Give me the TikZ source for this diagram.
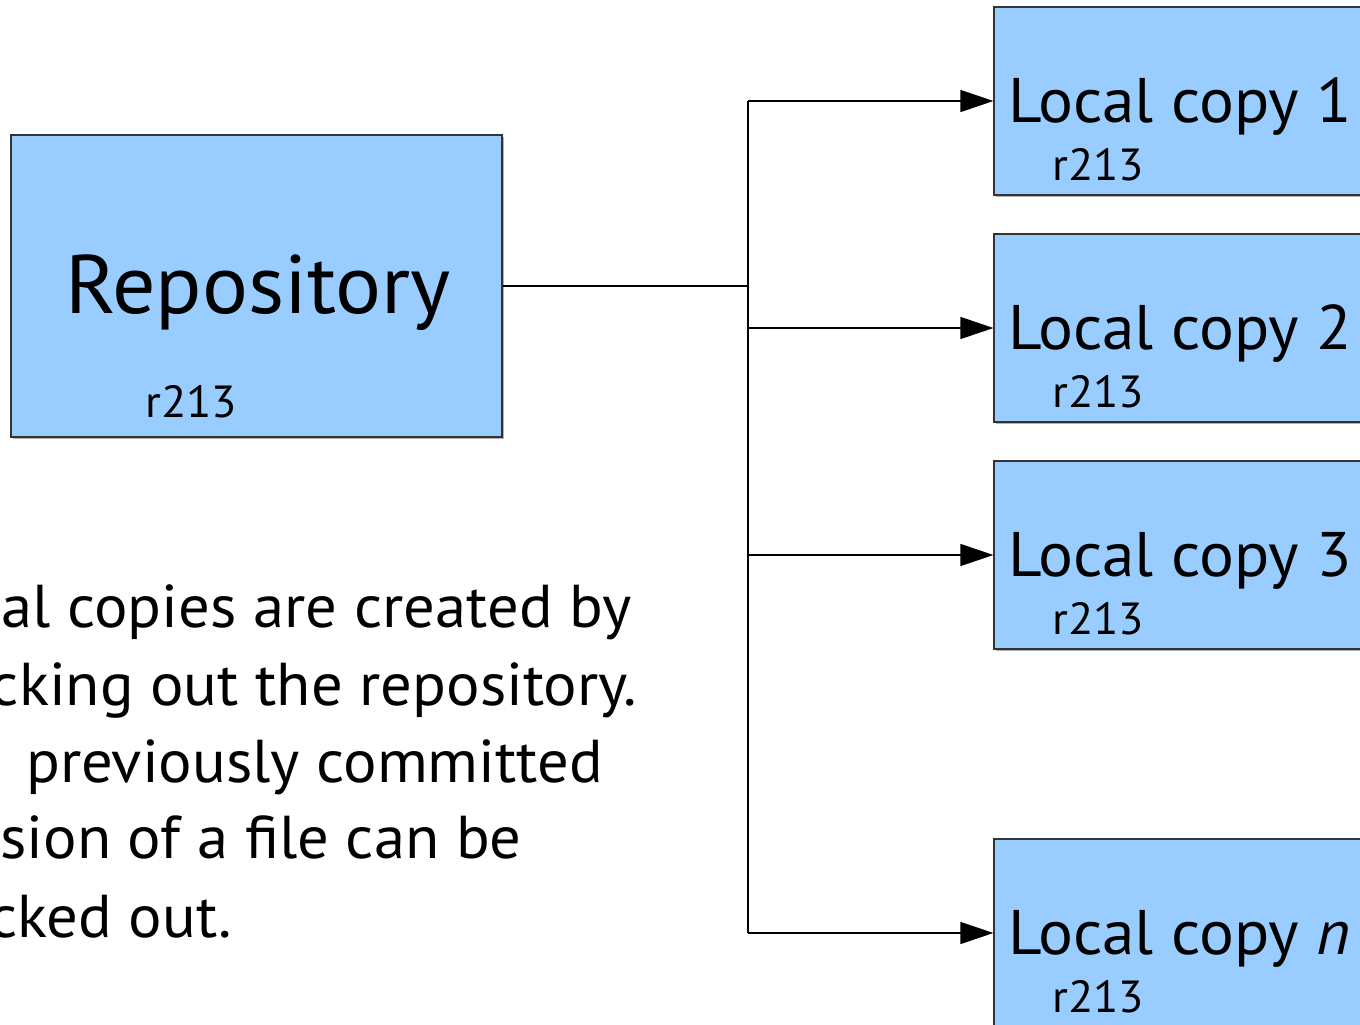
\documentclass[tikz,border=0pt]{standalone}
\usepackage{fontspec}
\setmainfont[FakeStretch=1.035]{PT Sans}
\usetikzlibrary{arrows.meta,shadows}
\definecolor{boxblue}{HTML}{99CCFF}
\definecolor{boxline}{HTML}{333333}
\begin{document}
\begin{tikzpicture}[x=1pt,y=-1pt,
  box/.style={draw=boxline, line width=1.2pt, fill=boxblue, rectangle, inner sep=0pt,
    drop shadow={shadow xshift=1.6pt, shadow yshift=-1.6pt, fill=black!30, opacity=1}},
  title/.style={inner sep=0pt, anchor=base west, font=\fontsize{83}{90}\selectfont},
  lbl/.style={inner sep=0pt, anchor=base west, font=\fontsize{63}{70}\selectfont},
  rev/.style={inner sep=0pt, anchor=base west, font=\fontsize{45}{50}\selectfont},
  note/.style={inner sep=0pt, anchor=base east, font=\fontsize{60.5}{70}\selectfont},
  link/.style={line width=1.3pt, draw=black},
  arr/.style={link, -{Triangle[length=33pt,width=22pt]}}]
\useasboundingbox (0,0) rectangle (1360,1025);
\clip (0,0) rectangle (1360,1025);

% repository
\node[box, minimum width=491pt, minimum height=302pt] (repo) at (256.5,286) {};
\node[title] (repoT) at (65,313) {Repository};
\node[rev] (repoR) at (145,417) {r213};

% working copies
\node[box, minimum width=420pt, minimum height=188pt] (c1) at (1204,101) {};
\node[box, minimum width=420pt, minimum height=188pt] (c2) at (1204,328) {};
\node[box, minimum width=420pt, minimum height=188pt] (c3) at (1204,555) {};
\node[box, minimum width=420pt, minimum height=188pt] (cn) at (1204,933) {};

\node[lbl] (c1T) at (1008,122) {Local copy 1};
\node[rev] (c1R) at (1052,180) {r213};
\node[lbl] (c2T) at (1008,349) {Local copy 2};
\node[rev] (c2R) at (1052,407) {r213};
\node[lbl] (c3T) at (1008,576) {Local copy 3};
\node[rev] (c3R) at (1052,634) {r213};
\node[lbl] (cnT) at (1008,954) {Local copy \textit{n}};
\node[rev] (cnR) at (1052,1012) {r213};

% distribution lines
\coordinate (j0) at (748,286);
\coordinate (j1) at (748,101);
\coordinate (j2) at (748,328);
\coordinate (j3) at (748,555);
\coordinate (jn) at (748,933);
\draw[link] (repo.east) -- (j0);
\draw[link] (j1) -- (jn);
\draw[arr] (j1) -- (c1.west);
\draw[arr] (j2) -- (c2.west);
\draw[arr] (j3) -- (c3.west);
\draw[arr] (jn) -- (cn.west);

% explanatory note
\node[note] (n1) at (632,627) {al copies are created by};
\node[note] (n2) at (637,705) {cking out the repository.};
\node[note] (n3) at (603,782) {previously committed};
\node[note] (n4) at (522,858) {sion of a file can be};
\node[note] (n5) at (232,937) {cked out.};
\end{tikzpicture}
\end{document}
